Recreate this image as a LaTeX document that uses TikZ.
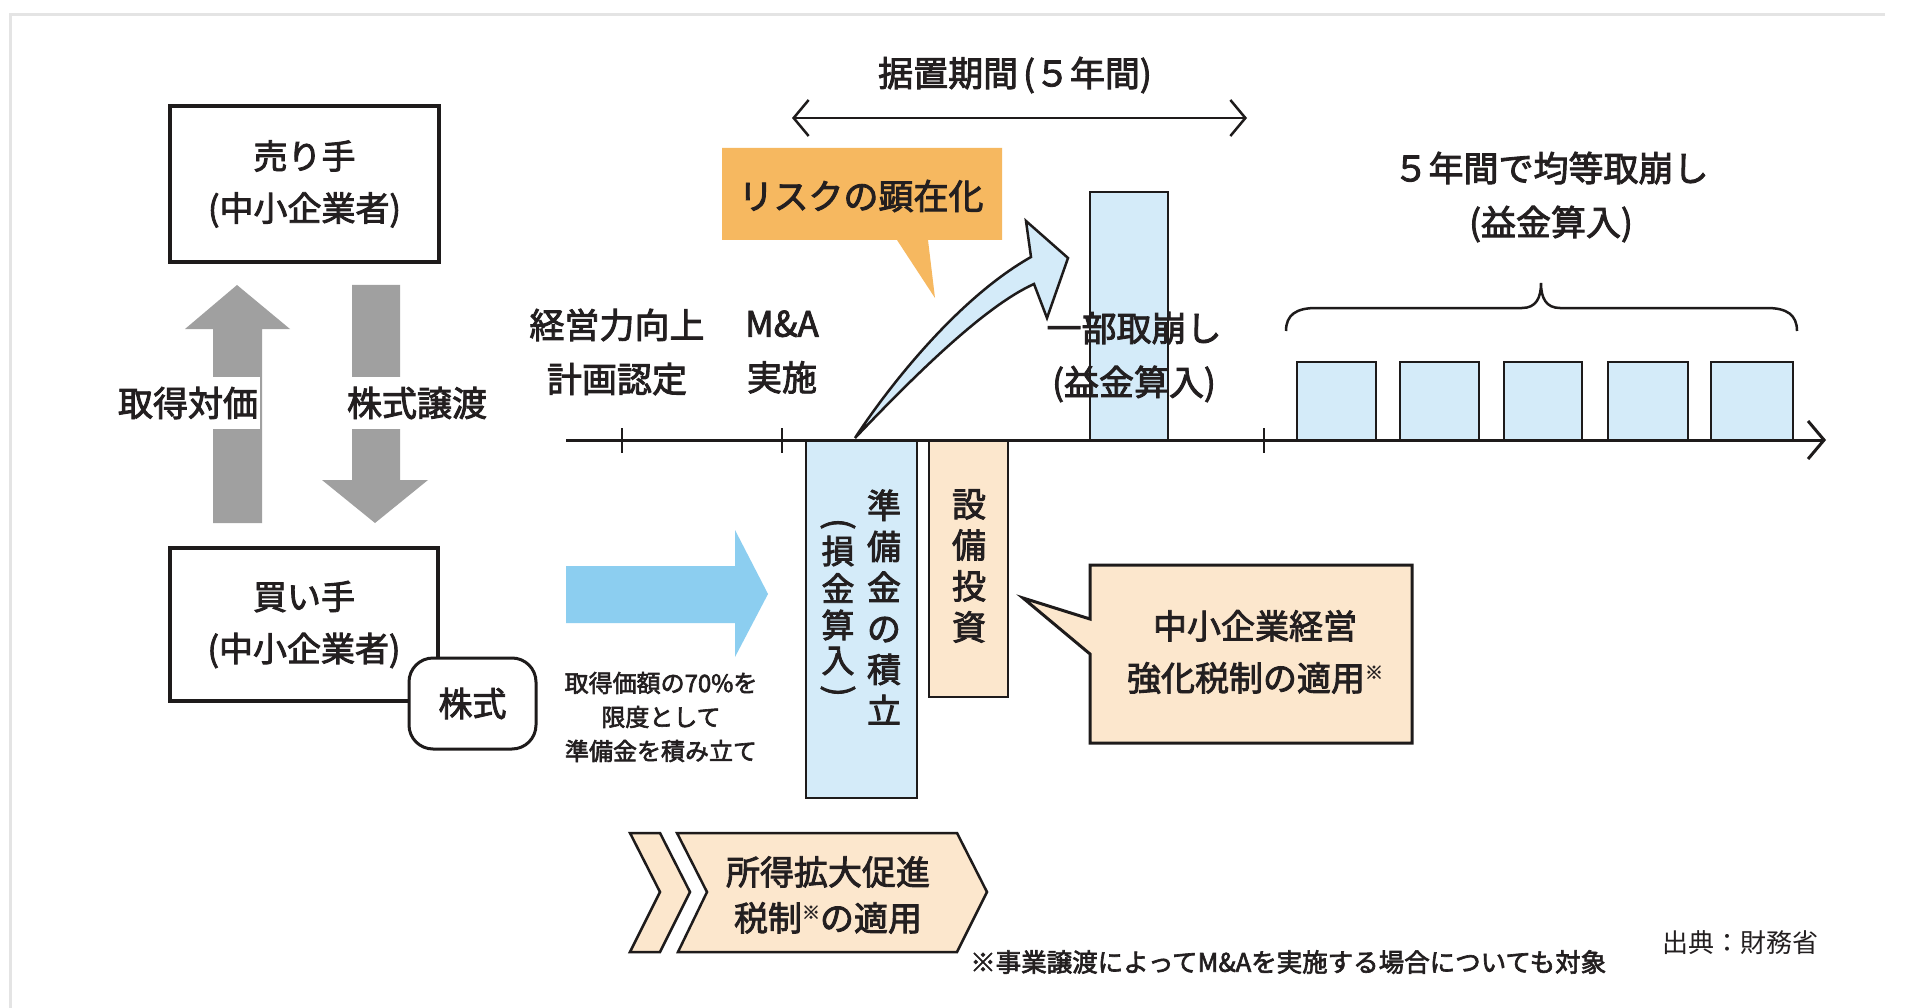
\documentclass[tikz,border=0pt]{standalone}
\usepackage{fontspec}
\setmainfont{Noto Sans CJK JP}[FakeBold=2.5]
\newfontfamily\plainjp{Noto Sans CJK JP}
\usetikzlibrary{arrows.meta}
\definecolor{ink}{RGB}{35,31,32}
\definecolor{linec}{RGB}{30,27,27}
\definecolor{framegray}{RGB}{228,228,228}
\definecolor{arrowgray}{RGB}{160,160,160}
\definecolor{cyanarrow}{RGB}{140,206,240}
\definecolor{paleblue}{RGB}{212,235,249}
\definecolor{beige}{RGB}{252,231,205}
\definecolor{orangec}{RGB}{246,184,96}
\begin{document}
\begin{tikzpicture}[x=1pt,y=-1pt,
  every node/.style={text=ink, inner sep=0pt, align=center},
  big/.style={font=\fontsize{34}{52}\selectfont},
  vert/.style={font=\fontsize{34}{41}\selectfont},
  smalltxt/.style={font=\fontsize{24}{34}\selectfont},
  mainbox/.style={draw=linec, line width=4pt, fill=white, big},
  bar/.style={draw=linec, line width=2.5pt},
  grayarrow/.style={fill=arrowgray, draw=none},
  barb/.style={line width=2.5pt, draw=linec}
]
\useasboundingbox (0,0) rectangle (1908,1008);
\fill[white] (0,0) rectangle (1908,1008);
% frame
\draw[framegray, line width=3pt] (10,1008) -- (10,15) -- (1885,15);

% gray block arrows
\fill[grayarrow] (237,285) -- (290,329) -- (262,329) -- (262,523) -- (213,523) -- (213,329) -- (185,329) -- cycle;
\fill[grayarrow] (352,285) -- (400,285) -- (400,480) -- (428,480) -- (375,523) -- (322,480) -- (352,480) -- cycle;
\node[big, font=\fontsize{35}{40}\selectfont, fill=white, inner xsep=2pt, inner ysep=10pt] (pay) at (188,403) {取得対価};
\node[big, font=\fontsize{35}{40}\selectfont, fill=white, inner xsep=2pt, inner ysep=10pt] (share) at (417,403) {株式譲渡};

% seller / buyer
\node[mainbox, minimum width=269pt, minimum height=156pt] (seller) at (304.5,184) {売り手\\(中小企業者)};
\node[mainbox, minimum width=268pt, minimum height=153pt] (buyer) at (304,624.5) {買い手\\(中小企業者)};
\node[draw=linec, line width=3pt, fill=white, rounded corners=24pt, minimum width=127pt, minimum height=91pt, big] (stock) at (472.5,703.5) {株式};

% cyan arrow
\fill[cyanarrow] (566,566) -- (735,566) -- (735,530) -- (768,594) -- (735,657) -- (735,623) -- (566,623) -- cycle;
\node[smalltxt] (limit) at (661,717) {取得価額の70\%を\\限度として\\準備金を積み立て};

% bars below axis
\fill[paleblue] (806,440) rectangle (917,798);
\draw[bar] (806,440) rectangle (917,798);
\fill[beige] (929,440) rectangle (1008,697);
\draw[bar] (929,440) rectangle (1008,697);
% bar above axis
\draw[bar, fill=paleblue] (1090,192) rectangle (1168,440);
% five squares
\foreach \a/\b in {1297/1376,1400/1479,1504/1582,1608/1688,1711/1793}
  \draw[bar, fill=paleblue] (\a,362) rectangle (\b,440);

% curved arrow
\draw[draw=linec, line width=2.5pt, fill=paleblue, line join=miter]
  (855,438) .. controls (885,392) and (955,300) .. (1031,257)
  -- (1026,221) -- (1068,258) -- (1047,318) -- (1034,284)
  .. controls (985,306) and (915,375) .. (855,438) -- cycle;

% axis
\coordinate (axL) at (566,440);
\coordinate (axR) at (1826,440);
\draw[barb, line width=3pt, -{Straight Barb[length=16pt,width=38pt]}] (axL) -- (axR);
\foreach \x in {622,782,1264}
  \draw[barb] (\x,428) -- (\x,453);

% period arrow
\coordinate (pL) at (792,118);
\coordinate (pR) at (1247,118);
\draw[barb, {Straight Barb[length=15pt,width=36pt]}-{Straight Barb[length=15pt,width=36pt]}] (pL) -- (pR);
\node[big, font=\fontsize{35}{40}\selectfont] (period) at (1015,75) {据置期間\hspace{5pt}(５年間)};

% risk callout
\fill[orangec] (722,148) -- (1002,148) -- (1002,240) -- (928,240) -- (935,298) -- (897,240) -- (722,240) -- cycle;
\node[big, font=\fontsize{35}{40}\selectfont] (risk) at (861,196) {リスクの顕在化};

% timeline labels
\node[big, font=\fontsize{35}{54}\selectfont] (plan) at (617,352) {経営力向上\\計画認定};
\node[big, font=\fontsize{35}{54}\selectfont] (ma) at (782,352) {M\&A\\実施};
\node[big, font=\fontsize{35}{54}\selectfont] (partial) at (1134,357) {一部取崩し\\(益金算入)};
\node[big, font=\fontsize{35}{54}\selectfont] (equal) at (1551,197) {５年間で均等取崩し\\(益金算入)};

% brace
\draw[barb] (1286,331) .. controls (1286,315) and (1296,308) .. (1316,308) -- (1522,308)
  .. controls (1536,308) and (1541,298) .. (1541,283)
  .. controls (1541,298) and (1546,308) .. (1560,308) -- (1767,308)
  .. controls (1787,308) and (1797,315) .. (1797,331);

% vertical texts
\node[vert] (reserve) at (884,607) {準\\備\\金\\の\\積\\立};
\node[vert, font=\fontsize{34}{34}\selectfont, rotate=-90] (lpar) at (838,524) {(};
\node[vert, font=\fontsize{33}{34}\selectfont] (loss1) at (838,551) {損};
\node[vert, font=\fontsize{33}{34}\selectfont] (loss2) at (838,588) {金};
\node[vert, font=\fontsize{33}{34}\selectfont] (loss3) at (838,625) {算};
\node[vert, font=\fontsize{33}{34}\selectfont] (loss4) at (838,661) {入};
\node[vert, font=\fontsize{34}{34}\selectfont, rotate=-90] (rpar) at (838,691) {)};
\node[vert] (invest) at (969,566) {設\\備\\投\\資};

% SME callout
\draw[draw=linec, line width=3pt, fill=beige, line join=miter]
  (1090,565) -- (1412,565) -- (1412,743) -- (1090,743) -- (1090,654) -- (1023,598) -- (1090,619) -- cycle;
\node[big] (sme) at (1255,652) {中小企業経営\\強化税制の適用\raisebox{0.35em}{\fontsize{18}{18}\selectfont ※}};

% chevron
\draw[draw=linec, line width=2.5pt, fill=beige, line join=miter]
  (630,833) -- (660,833) -- (690,892) -- (660,952) -- (630,952) -- (660,892) -- cycle;
\draw[draw=linec, line width=2.5pt, fill=beige, line join=miter]
  (677,833) -- (957,833) -- (987,892) -- (957,952) -- (678,952) -- (707,892) -- cycle;
\node[big, font=\fontsize{34}{46}\selectfont] (income) at (828,895) {所得拡大促進\\税制\raisebox{0.35em}{\fontsize{18}{18}\selectfont ※}の適用};

% footnotes
\node[font=\fontsize{25.5}{30}\selectfont, anchor=west] (note) at (970,962) {※事業譲渡によってM\&Aを実施する場合についても対象};
\node[font=\plainjp\fontsize{26}{30}\selectfont] (source) at (1740,943) {出典：財務省};
\end{tikzpicture}
\end{document}
